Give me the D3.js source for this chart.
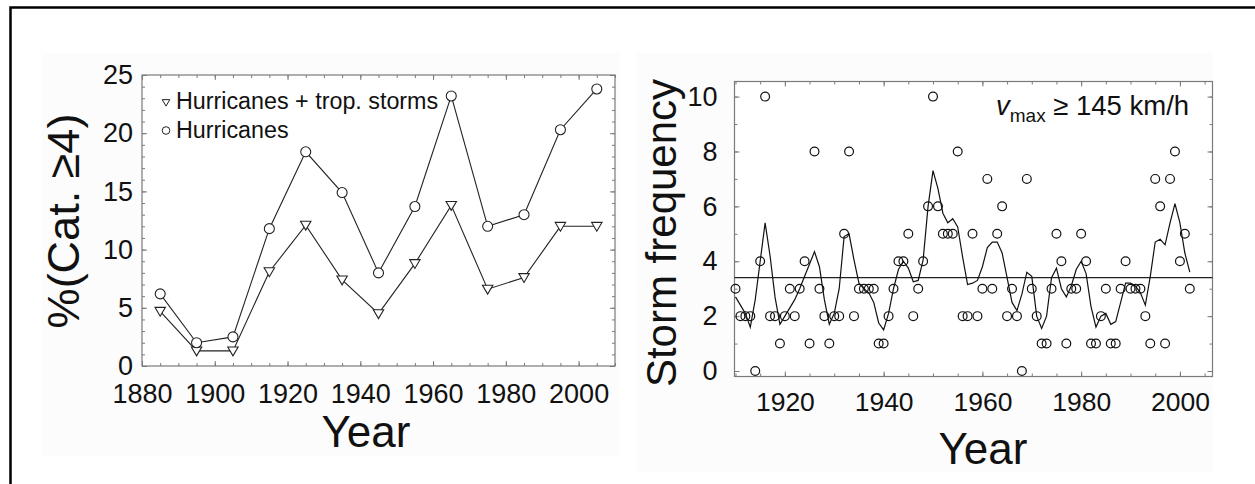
<!DOCTYPE html>
<html><head><meta charset="utf-8">
<script src="https://cdn.jsdelivr.net/npm/d3@7"></script>
<style>
body{margin:0;background:#fff}
svg{display:block}
text{font-family:"Liberation Sans",Arial,Helvetica,sans-serif;fill:#111}
</style>
</head><body>
<svg id="c" width="1255" height="484"></svg>
<script>
// ---------- DATA: left panel ----------
const decadeYears = [1885,1895,1905,1915,1925,1935,1945,1955,1965,1975,1985,1995,2005];
const hurricanesPct = [6.2,2.0,2.5,11.8,18.4,14.9,8.0,13.7,23.2,12.0,13.0,20.3,23.8];
const hurrTropPct = [4.7,1.3,1.3,8.1,12.1,7.4,4.5,8.8,13.8,6.6,7.6,12.0,12.0];
const leftXTicks = [1880,1900,1920,1940,1960,1980,2000];
const leftYTicks = [0,5,10,15,20,25];
const legendLabels = ["Hurricanes + trop. storms","Hurricanes"];

// ---------- DATA: right panel ----------
const stormYears = [1910,1911,1912,1913,1914,1915,1916,1917,1918,1919,
 1920,1921,1922,1923,1924,1925,1926,1927,1928,1929,
 1930,1931,1932,1933,1934,1935,1936,1937,1938,1939,
 1940,1941,1942,1943,1944,1945,1946,1947,1948,1949,
 1950,1951,1952,1953,1954,1955,1956,1957,1958,1959,
 1960,1961,1962,1963,1964,1965,1966,1967,1968,1969,
 1970,1971,1972,1973,1974,1975,1976,1977,1978,1979,
 1980,1981,1982,1983,1984,1985,1986,1987,1988,1989,
 1990,1991,1992,1993,1994,1995,1996,1997,1998,1999,
 2000,2001,2002];
const stormCounts = [3,2,2,2,0,4,10,2,2,1,
 2,3,2,3,4,1,8,3,2,1,
 2,2,5,8,2,3,3,3,3,1,
 1,2,3,4,4,5,2,3,4,6,
 10,6,5,5,5,8,2,2,5,2,
 3,7,3,5,6,2,3,2,0,7,
 3,2,1,1,3,5,4,1,3,3,
 5,4,1,1,2,3,1,1,3,4,
 3,3,3,2,1,7,6,1,7,8,
 4,5,3];
const stormSmooth = [2.7,2.4,2.1,1.6,2.6,4.0,5.4,4.2,2.7,1.7,
 2.0,2.3,2.6,3.0,3.45,3.9,4.35,3.8,2.6,1.7,
 2.1,3.0,4.9,5.0,4.05,3.2,3.0,2.85,2.5,1.75,
 1.5,2.1,3.0,3.7,4.0,3.75,3.25,3.3,4.05,6.0,
 7.3,6.65,5.75,5.4,5.55,5.25,4.15,3.15,3.2,3.3,
 3.8,4.5,4.7,4.7,4.3,3.4,2.5,2.2,2.8,3.6,
 3.45,2.0,1.55,2.0,3.4,3.75,3.0,2.7,3.1,3.7,
 4.0,3.55,2.35,1.6,2.0,2.1,1.7,1.8,2.5,3.2,
 3.2,3.1,2.85,2.4,3.45,4.7,4.8,4.6,5.4,6.1,
 5.4,4.3,3.6];
const stormMean = 3.4;
const rightXTicks = [1920,1940,1960,1980,2000];
const rightYTicks = [0,2,4,6,8,10];

// ---------- DRAW ----------
const svg = d3.select("#c");
const axisGray = "#7a7a7a";

// outer frame
svg.append("rect").attr("x",10.5).attr("y",7.5).attr("width",1300).attr("height",600)
  .attr("fill","none").attr("stroke","#000").attr("stroke-width",2.5);
// very faint panel backgrounds
svg.append("rect").attr("x",42).attr("y",53).attr("width",578).attr("height",403).attr("fill","#fcfcfc");
svg.append("rect").attr("x",636).attr("y",53).attr("width",577).attr("height",419).attr("fill","#fcfcfc");

function frameAxes(g, x, y, xMajor, xMinor, yMajor, yMinor, opts){
  const [x0,x1] = x.range(), [y0,y1] = y.range();
  g.append("rect").attr("x",x0).attr("y",y1).attr("width",x1-x0).attr("height",y0-y1)
    .attr("fill","#fff").attr("stroke",axisGray).attr("stroke-width",1.2);
  const mk = (axis, tr, vals, size) => {
    const a = g.append("g").attr("transform",tr)
      .call(axis.tickValues(vals).tickSize(size).tickFormat(() => ""));
    a.select(".domain").remove();
    a.selectAll(".tick line").attr("stroke",axisGray).attr("stroke-width",1);
    a.selectAll("text").remove();
    return a;
  };
  // minor ticks, all four sides
  mk(d3.axisBottom(x), `translate(0,${y0})`, xMinor, -3);
  mk(d3.axisTop(x), `translate(0,${y1})`, xMinor, -3);
  mk(d3.axisLeft(y), `translate(${x0},0)`, yMinor, -3);
  mk(d3.axisRight(y), `translate(${x1},0)`, yMinor, -3);
  // major ticks with labels
  const bx = g.append("g").attr("transform",`translate(0,${y0})`)
    .call(d3.axisBottom(x).tickValues(xMajor).tickSize(-5).tickPadding(opts.xpad).tickFormat(d3.format("d")));
  bx.select(".domain").remove();
  bx.selectAll(".tick line").attr("stroke",axisGray);
  bx.selectAll("text").attr("font-size",opts.xfs).attr("fill","#111")
    .attr("font-family","Liberation Sans, Arial, sans-serif");
  mk(d3.axisTop(x), `translate(0,${y1})`, xMajor, -5);
  const ly = g.append("g").attr("transform",`translate(${x0},0)`)
    .call(d3.axisLeft(y).tickValues(yMajor).tickSize(-5).tickPadding(opts.ypad).tickFormat(d3.format("d")));
  ly.select(".domain").remove();
  ly.selectAll(".tick line").attr("stroke",axisGray);
  ly.selectAll("text").attr("font-size",opts.yfs).attr("fill","#111")
    .attr("font-family","Liberation Sans, Arial, sans-serif");
  mk(d3.axisRight(y), `translate(${x1},0)`, yMajor, -5);
}

// ---- left panel ----
const xL = d3.scaleLinear().domain([1880,2010]).range([142,615]);
const yL = d3.scaleLinear().domain([0,25]).range([366,75]);
const gL = svg.append("g");
frameAxes(gL, xL, yL, leftXTicks, d3.range(1880,2011,5), leftYTicks, d3.range(0,26,1),
  {xpad:18, ypad:9, xfs:27, yfs:27});

const lineL = d3.line().x(d=>xL(d[0])).y(d=>yL(d[1]));
const hurrPts = decadeYears.map((yr,i)=>[yr,hurricanesPct[i]]);
const trPts = decadeYears.map((yr,i)=>[yr,hurrTropPct[i]]);
gL.append("path").attr("d",lineL(hurrPts)).attr("fill","none").attr("stroke","#222").attr("stroke-width",1.1);
gL.append("path").attr("d",lineL(trPts)).attr("fill","none").attr("stroke","#222").attr("stroke-width",1.1);
const triPath = (cx,cy,s) => `M${cx-s},${cy-s*0.75}L${cx+s},${cy-s*0.75}L${cx},${cy+s*0.95}Z`;
gL.selectAll("path.tri").data(trPts).join("path").attr("class","tri")
  .attr("d",d=>triPath(xL(d[0]),yL(d[1]),5.2))
  .attr("fill","#fff").attr("stroke","#222").attr("stroke-width",1.1);
gL.selectAll("circle.h").data(hurrPts).join("circle").attr("class","h")
  .attr("cx",d=>xL(d[0])).attr("cy",d=>yL(d[1])).attr("r",5)
  .attr("fill","#fff").attr("stroke","#222").attr("stroke-width",1.1);

// legend
gL.append("path").attr("d",triPath(166,102.5,3.8)).attr("fill","#fff").attr("stroke","#222").attr("stroke-width",1);
gL.append("text").attr("x",176).attr("y",108.5).attr("font-size",23.3).text(legendLabels[0]);
gL.append("circle").attr("cx",166).attr("cy",130.5).attr("r",3.8).attr("fill","#fff").attr("stroke","#222").attr("stroke-width",1);
gL.append("text").attr("x",176).attr("y",137.5).attr("font-size",23.3).text(legendLabels[1]);

// axis titles
gL.append("text").attr("transform","translate(79,221) rotate(-90)").attr("text-anchor","middle")
  .attr("font-size",45).text("%(Cat. \u22654)");
gL.append("text").attr("x",366).attr("y",447).attr("text-anchor","middle").attr("font-size",44).text("Year");

// ---- right panel ----
const xR = d3.scaleLinear().domain([1909.8,2006.6]).range([734.5,1212.5]);
const yR = d3.scaleLinear().domain([-0.2,10.55]).range([376.5,81.5]);
const gR = svg.append("g");
frameAxes(gR, xR, yR, rightXTicks, d3.range(1910,2006,5), rightYTicks, d3.range(0,11,1),
  {xpad:16, ypad:17, xfs:26.5, yfs:27});

gR.append("line").attr("x1",xR.range()[0]).attr("x2",xR.range()[1])
  .attr("y1",yR(stormMean)).attr("y2",yR(stormMean)).attr("stroke","#222").attr("stroke-width",1.3);
const lineR = d3.line().x((d,i)=>xR(stormYears[i])).y(d=>yR(d));
gR.append("path").attr("d",lineR(stormSmooth)).attr("fill","none").attr("stroke","#111").attr("stroke-width",1.2);
gR.selectAll("circle.s").data(stormCounts).join("circle").attr("class","s")
  .attr("cx",(d,i)=>xR(stormYears[i])).attr("cy",d=>yR(d)).attr("r",4.4)
  .attr("fill","none").attr("stroke","#111").attr("stroke-width",1.2);

// annotation
const ann = gR.append("text").attr("x",996).attr("y",115).attr("font-size",27.5);
ann.append("tspan").attr("font-style","italic").text("v");
ann.append("tspan").attr("font-size",19).attr("dy",7).text("max");
ann.append("tspan").attr("dy",-7).text(" \u2265 145 km/h");

gR.append("text").attr("transform","translate(676,233) rotate(-90)").attr("text-anchor","middle")
  .attr("font-size",42).text("Storm frequency");
gR.append("text").attr("x",983).attr("y",464).attr("text-anchor","middle").attr("font-size",44).text("Year");
</script>
</body></html>
